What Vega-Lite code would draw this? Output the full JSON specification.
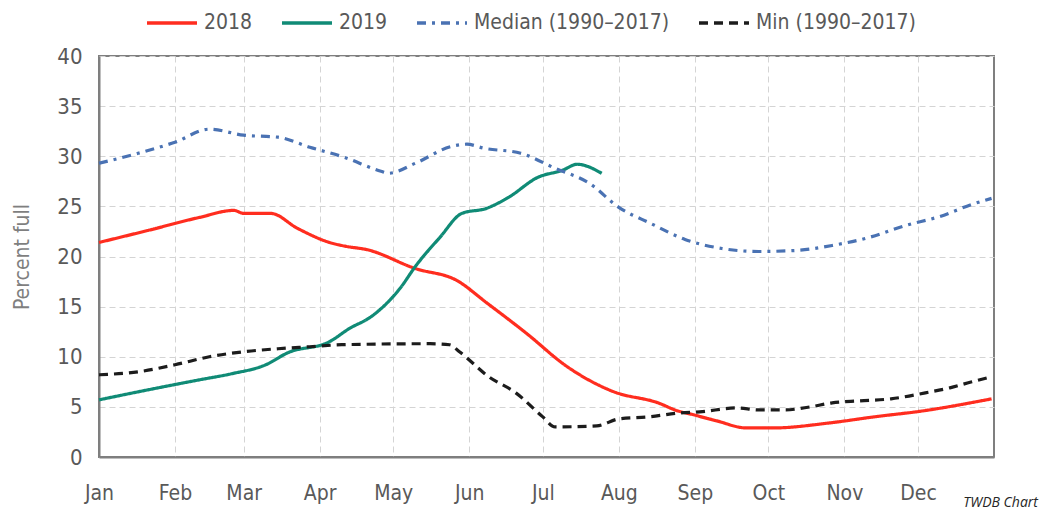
{
  "$schema": "https://vega.github.io/schema/vega-lite/v6.json",
  "autosize": {"type": "none"},
  "width": 895,
  "height": 401,
  "padding": {"left": 99, "top": 56, "right": 48, "bottom": 56},
  "background": "white",
  "config": {
    "font": "'DejaVu Sans Condensed', Roboto, sans-serif",
    "view": {"stroke": "#7f7f7f", "strokeWidth": 2},
    "axis": {
      "gridColor": "#d4d4d4",
      "gridDash": [6, 4],
      "gridWidth": 1,
      "ticks": false,
      "domainColor": "#7f7f7f",
      "domainWidth": 2,
      "labelColor": "#595959",
      "titleColor": "#7f7f7f",
      "titleFontWeight": "normal"
    }
  },
  "title": {
    "text": "TWDB Chart",
    "orient": "bottom",
    "anchor": "end",
    "fontSize": 14,
    "fontStyle": "italic",
    "fontWeight": "normal",
    "color": "#262626",
    "font": "'Open Sans', sans-serif",
    "dx": 40,
    "offset": -7
  },
  "data": {
    "values": [
      {"series": "2018", "date": "2018-01-01", "value": 21.4},
      {"series": "2018", "date": "2018-01-21", "value": 22.6},
      {"series": "2018", "date": "2018-02-11", "value": 23.9},
      {"series": "2018", "date": "2018-02-25", "value": 24.6},
      {"series": "2018", "date": "2018-03-01", "value": 24.3},
      {"series": "2018", "date": "2018-03-12", "value": 24.3},
      {"series": "2018", "date": "2018-03-23", "value": 22.8},
      {"series": "2018", "date": "2018-04-05", "value": 21.4},
      {"series": "2018", "date": "2018-04-12", "value": 21.0},
      {"series": "2018", "date": "2018-04-20", "value": 20.7},
      {"series": "2018", "date": "2018-05-10", "value": 18.8},
      {"series": "2018", "date": "2018-05-27", "value": 17.6},
      {"series": "2018", "date": "2018-06-08", "value": 15.4},
      {"series": "2018", "date": "2018-06-24", "value": 12.4},
      {"series": "2018", "date": "2018-07-11", "value": 9.0},
      {"series": "2018", "date": "2018-07-30", "value": 6.5},
      {"series": "2018", "date": "2018-08-17", "value": 5.4},
      {"series": "2018", "date": "2018-08-25", "value": 4.6},
      {"series": "2018", "date": "2018-08-30", "value": 4.3},
      {"series": "2018", "date": "2018-09-10", "value": 3.6},
      {"series": "2018", "date": "2018-09-22", "value": 2.9},
      {"series": "2018", "date": "2018-10-03", "value": 2.9},
      {"series": "2018", "date": "2018-10-26", "value": 3.4},
      {"series": "2018", "date": "2018-11-13", "value": 4.0},
      {"series": "2018", "date": "2018-12-03", "value": 4.6},
      {"series": "2018", "date": "2018-12-31", "value": 5.8},

      {"series": "2019", "date": "2018-01-01", "value": 5.7},
      {"series": "2019", "date": "2018-01-21", "value": 6.7},
      {"series": "2019", "date": "2018-02-11", "value": 7.7},
      {"series": "2019", "date": "2018-02-24", "value": 8.3},
      {"series": "2019", "date": "2018-03-10", "value": 9.2},
      {"series": "2019", "date": "2018-03-19", "value": 10.4},
      {"series": "2019", "date": "2018-04-05", "value": 11.5},
      {"series": "2019", "date": "2018-04-13", "value": 12.8},
      {"series": "2019", "date": "2018-04-22", "value": 14.0},
      {"series": "2019", "date": "2018-05-04", "value": 16.9},
      {"series": "2019", "date": "2018-05-10", "value": 19.0},
      {"series": "2019", "date": "2018-05-20", "value": 21.9},
      {"series": "2019", "date": "2018-05-29", "value": 24.3},
      {"series": "2019", "date": "2018-06-08", "value": 24.8},
      {"series": "2019", "date": "2018-06-17", "value": 25.9},
      {"series": "2019", "date": "2018-06-29", "value": 27.9},
      {"series": "2019", "date": "2018-07-09", "value": 28.6},
      {"series": "2019", "date": "2018-07-15", "value": 29.2},
      {"series": "2019", "date": "2018-07-25", "value": 28.3},

      {"series": "Median (1990–2017)", "date": "2018-01-01", "value": 29.3},
      {"series": "Median (1990–2017)", "date": "2018-01-17", "value": 30.3},
      {"series": "Median (1990–2017)", "date": "2018-02-01", "value": 31.4},
      {"series": "Median (1990–2017)", "date": "2018-02-15", "value": 32.7},
      {"series": "Median (1990–2017)", "date": "2018-03-01", "value": 32.1},
      {"series": "Median (1990–2017)", "date": "2018-03-15", "value": 31.9},
      {"series": "Median (1990–2017)", "date": "2018-03-28", "value": 30.9},
      {"series": "Median (1990–2017)", "date": "2018-04-11", "value": 29.9},
      {"series": "Median (1990–2017)", "date": "2018-04-26", "value": 28.5},
      {"series": "Median (1990–2017)", "date": "2018-04-29", "value": 28.3},
      {"series": "Median (1990–2017)", "date": "2018-05-10", "value": 29.3},
      {"series": "Median (1990–2017)", "date": "2018-05-25", "value": 31.0},
      {"series": "Median (1990–2017)", "date": "2018-05-31", "value": 31.2},
      {"series": "Median (1990–2017)", "date": "2018-06-07", "value": 30.8},
      {"series": "Median (1990–2017)", "date": "2018-06-22", "value": 30.3},
      {"series": "Median (1990–2017)", "date": "2018-07-06", "value": 28.8},
      {"series": "Median (1990–2017)", "date": "2018-07-20", "value": 27.3},
      {"series": "Median (1990–2017)", "date": "2018-08-01", "value": 24.9},
      {"series": "Median (1990–2017)", "date": "2018-08-14", "value": 23.3},
      {"series": "Median (1990–2017)", "date": "2018-08-28", "value": 21.7},
      {"series": "Median (1990–2017)", "date": "2018-09-12", "value": 20.8},
      {"series": "Median (1990–2017)", "date": "2018-09-27", "value": 20.5},
      {"series": "Median (1990–2017)", "date": "2018-10-12", "value": 20.6},
      {"series": "Median (1990–2017)", "date": "2018-10-27", "value": 21.1},
      {"series": "Median (1990–2017)", "date": "2018-11-11", "value": 21.9},
      {"series": "Median (1990–2017)", "date": "2018-11-26", "value": 23.1},
      {"series": "Median (1990–2017)", "date": "2018-12-10", "value": 24.0},
      {"series": "Median (1990–2017)", "date": "2018-12-23", "value": 25.2},
      {"series": "Median (1990–2017)", "date": "2018-12-31", "value": 25.8},

      {"series": "Min (1990–2017)", "date": "2018-01-01", "value": 8.2},
      {"series": "Min (1990–2017)", "date": "2018-01-17", "value": 8.5},
      {"series": "Min (1990–2017)", "date": "2018-02-01", "value": 9.2},
      {"series": "Min (1990–2017)", "date": "2018-02-15", "value": 10.0},
      {"series": "Min (1990–2017)", "date": "2018-03-01", "value": 10.5},
      {"series": "Min (1990–2017)", "date": "2018-03-15", "value": 10.8},
      {"series": "Min (1990–2017)", "date": "2018-03-28", "value": 11.0},
      {"series": "Min (1990–2017)", "date": "2018-04-10", "value": 11.2},
      {"series": "Min (1990–2017)", "date": "2018-05-16", "value": 11.3},
      {"series": "Min (1990–2017)", "date": "2018-05-24", "value": 11.2},
      {"series": "Min (1990–2017)", "date": "2018-05-28", "value": 10.5},
      {"series": "Min (1990–2017)", "date": "2018-06-09", "value": 8.0},
      {"series": "Min (1990–2017)", "date": "2018-06-20", "value": 6.4},
      {"series": "Min (1990–2017)", "date": "2018-07-01", "value": 4.0},
      {"series": "Min (1990–2017)", "date": "2018-07-06", "value": 3.0},
      {"series": "Min (1990–2017)", "date": "2018-07-23", "value": 3.1},
      {"series": "Min (1990–2017)", "date": "2018-08-01", "value": 3.8},
      {"series": "Min (1990–2017)", "date": "2018-08-13", "value": 4.0},
      {"series": "Min (1990–2017)", "date": "2018-08-26", "value": 4.4},
      {"series": "Min (1990–2017)", "date": "2018-09-03", "value": 4.5},
      {"series": "Min (1990–2017)", "date": "2018-09-18", "value": 4.9},
      {"series": "Min (1990–2017)", "date": "2018-09-27", "value": 4.7},
      {"series": "Min (1990–2017)", "date": "2018-10-08", "value": 4.7},
      {"series": "Min (1990–2017)", "date": "2018-10-18", "value": 5.0},
      {"series": "Min (1990–2017)", "date": "2018-10-27", "value": 5.4},
      {"series": "Min (1990–2017)", "date": "2018-11-07", "value": 5.6},
      {"series": "Min (1990–2017)", "date": "2018-11-20", "value": 5.8},
      {"series": "Min (1990–2017)", "date": "2018-12-04", "value": 6.4},
      {"series": "Min (1990–2017)", "date": "2018-12-14", "value": 6.9},
      {"series": "Min (1990–2017)", "date": "2018-12-23", "value": 7.5},
      {"series": "Min (1990–2017)", "date": "2018-12-31", "value": 8.0}
    ]
  },
  "mark": {"type": "line", "strokeWidth": 3.2, "interpolate": "monotone"},
  "encoding": {
    "x": {
      "field": "date",
      "type": "temporal",
      "scale": {
        "type": "utc",
        "domain": [
          {"year": 2018, "month": 1, "date": 1, "utc": true},
          {"year": 2019, "month": 1, "date": 1, "utc": true}
        ]
      },
      "axis": {
        "title": null,
        "format": "%b",
        "labelOverlap": false,
        "values": [
          {"year": 2018, "month": 1, "date": 1, "utc": true},
          {"year": 2018, "month": 2, "date": 1, "utc": true},
          {"year": 2018, "month": 3, "date": 1, "utc": true},
          {"year": 2018, "month": 4, "date": 1, "utc": true},
          {"year": 2018, "month": 5, "date": 1, "utc": true},
          {"year": 2018, "month": 6, "date": 1, "utc": true},
          {"year": 2018, "month": 7, "date": 1, "utc": true},
          {"year": 2018, "month": 8, "date": 1, "utc": true},
          {"year": 2018, "month": 9, "date": 1, "utc": true},
          {"year": 2018, "month": 10, "date": 1, "utc": true},
          {"year": 2018, "month": 11, "date": 1, "utc": true},
          {"year": 2018, "month": 12, "date": 1, "utc": true}
        ],
        "labelFontSize": 21,
        "labelPadding": 25,
        "labelFlush": false
      }
    },
    "y": {
      "field": "value",
      "type": "quantitative",
      "scale": {"domain": [0, 40], "nice": false},
      "axis": {
        "title": "Percent full",
        "values": [0, 5, 10, 15, 20, 25, 30, 35, 40],
        "labelFontSize": 22,
        "labelPadding": 17,
        "titleFontSize": 21,
        "titlePadding": 24
      }
    },
    "color": {
      "field": "series",
      "type": "nominal",
      "scale": {
        "domain": ["2018", "2019", "Median (1990–2017)", "Min (1990–2017)"],
        "range": ["#ff2d1f", "#108b76", "#4a72b3", "#1c1c1c"]
      },
      "legend": {
        "title": null,
        "orient": "none",
        "legendX": 46,
        "legendY": -60,
        "direction": "horizontal",
        "symbolType": "stroke",
        "symbolSize": 2500,
        "symbolStrokeWidth": 3.5,
        "labelFontSize": 21,
        "labelLimit": 0,
        "labelColor": "#595959",
        "columnPadding": 22,
        "labelOffset": 5
      }
    },
    "strokeDash": {
      "field": "series",
      "type": "nominal",
      "scale": {
        "domain": ["2018", "2019", "Median (1990–2017)", "Min (1990–2017)"],
        "range": [[1, 0], [1, 0], [9, 6, 3, 6], [9, 6]]
      },
      "legend": null
    }
  }
}
